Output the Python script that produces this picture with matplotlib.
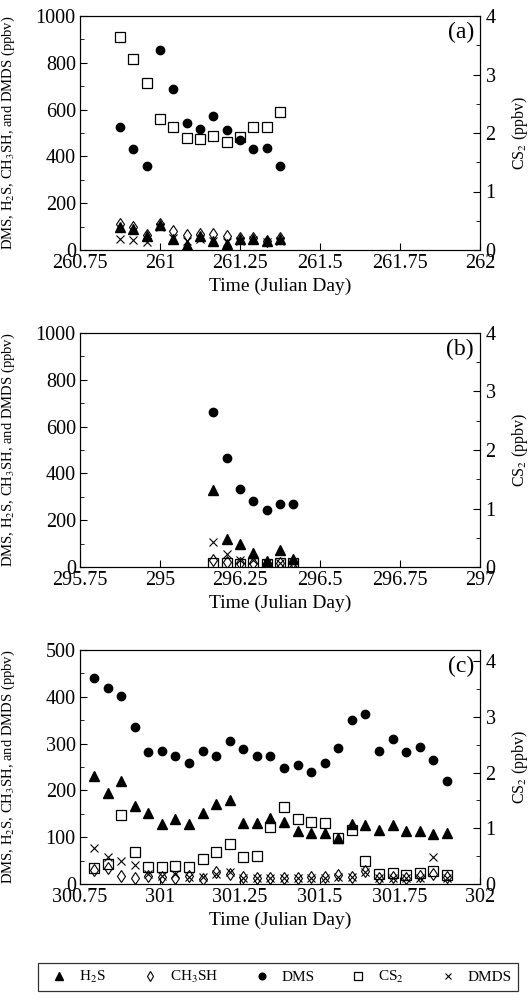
import matplotlib
matplotlib.use('Agg')
import matplotlib.pyplot as plt
from matplotlib.ticker import MultipleLocator, FixedLocator

plt.rcParams['font.family'] = ['Liberation Serif', 'DejaVu Serif']
plt.rcParams['mathtext.fontset'] = 'stix'

# panel (a)
a_time = [260.875, 260.917, 260.958, 261.0, 261.042, 261.083, 261.125,
          261.167, 261.208, 261.25, 261.292, 261.333, 261.375]
a_h2s = [100, 88, 58, 105, 45, 22, 60, 38, 25, 45, 45, 38, 45]
a_ch3sh = [110, 100, 65, 112, 80, 62, 68, 70, 60, 50, 50, 40, 50]
a_dms = [525, 433, 357, 854, 686, 543, 515, 571, 512, 472, 430, 438, 358]
a_cs2 = [3.645, 3.26, 2.855, 2.24, 2.1, 1.91, 1.89, 1.95, 1.84, 1.94, 2.11, 2.1, 2.36]
a_dmds = [45, 42, 35, 100, 50, 40, 45, 40, 35, 40, 42, 35, 40]

# panel (b)
b_time = [296.167, 296.208, 296.25, 296.292, 296.333, 296.375, 296.417]
b_h2s = [330, 121, 98, 60, 24, 71, 36]
b_ch3sh = [28, 20, 18, 18, 15, 18, 20]
b_dms = [661, 464, 335, 283, 245, 271, 268]
b_cs2 = [0.06, 0.06, 0.05, 0.06, 0.05, 0.06, 0.06]
b_dmds = [105, 55, 30, 30, 15, 15, 15]

# panel (c)
c_time = [300.794, 300.836, 300.879, 300.921, 300.964, 301.006, 301.048,
          301.091, 301.133, 301.176, 301.218, 301.260, 301.303, 301.345,
          301.388, 301.430, 301.472, 301.515, 301.557, 301.600, 301.642,
          301.684, 301.727, 301.769, 301.812, 301.854, 301.896]
c_h2s = [230, 195, 220, 167, 152, 129, 139, 129, 152, 171, 179, 131, 131, 140,
         132, 114, 108, 109, 98, 128, 126, 116, 127, 114, 113, 106, 108]
c_ch3sh = [30, 35, 18, 12, 18, 15, 12, 18, 10, 25, 22, 15, 12, 12,
           12, 12, 15, 15, 20, 15, 28, 12, 15, 12, 18, 22, 14]
c_dms = [441, 418, 401, 336, 282, 285, 274, 259, 284, 274, 305, 289, 274, 274,
         248, 255, 239, 259, 291, 351, 363, 284, 309, 282, 293, 266, 220]
c_cs2 = [0.28, 0.36, 1.24, 0.58, 0.30, 0.30, 0.32, 0.30, 0.44, 0.58, 0.71, 0.48, 0.51, 1.02,
         1.38, 1.16, 1.12, 1.09, 0.82, 0.97, 0.42, 0.18, 0.2, 0.17, 0.2, 0.24, 0.16]
c_dmds = [77, 58, 50, 40, 22, 18, 22, 15, 16, 22, 25, 12, 12, 12,
          12, 12, 12, 12, 15, 15, 25, 12, 12, 12, 12, 57, 12]

a_ticks = [260.75, 261, 261.25, 261.5, 261.75, 262]
a_labels = ['260.75', '261', '261.25', '261.5', '261.75', '262']
b_ticks = [295.75, 296, 296.25, 296.5, 296.75, 297]
b_labels = ['295.75', '295', '296.25', '296.5', '296.75', '297']
c_ticks = [300.75, 301, 301.25, 301.5, 301.75, 302]
c_labels = ['300.75', '301', '301.25', '301.5', '301.75', '302']


def draw_panel(fig, rect, t, h2s, ch3sh, dms, cs2, dmds, xticks, xlabels,
               ymax, ymaj, rmax, tag):
    ax = fig.add_axes(rect)
    ax.plot(t, h2s, '^', color='black', ms=7, label='H$_2$S')
    ax.plot(t, ch3sh, 'd', mfc='none', mec='black', mew=0.8, ms=6, label='CH$_3$SH')
    ax.plot(t, dms, 'o', color='black', ms=6, label='DMS')
    ax.plot(t, dmds, 'x', color='black', mew=0.8, ms=6, label='DMDS')
    ax.set_xlim(xticks[0], xticks[-1])
    ax.set_ylim(0, ymax)
    ax.xaxis.set_major_locator(FixedLocator(xticks))
    ax.set_xticklabels(xlabels)
    ax.yaxis.set_major_locator(MultipleLocator(ymaj))
    ax.yaxis.set_minor_locator(MultipleLocator(ymaj / 2))
    ax.tick_params(direction='in', labelsize=14.5, pad=3, length=5)
    ax.tick_params(which='minor', direction='in', length=3)
    ax.set_xlabel('Time (Julian Day)', fontsize=14, labelpad=3)
    ax.set_ylabel('DMS, H$_2$S, CH$_3$SH, and DMDS (ppbv)', fontsize=10.5)
    ax.yaxis.set_label_coords(-0.158, 0.5)
    ax.text(0.985, 0.93, tag, transform=ax.transAxes, ha='right', va='center', fontsize=17)

    ax2 = ax.twinx()
    ax2.plot(t, cs2, 's', mfc='none', mec='black', mew=0.9, ms=7, label='CS$_2$')
    ax2.set_ylim(0, rmax)
    ax2.yaxis.set_major_locator(MultipleLocator(1))
    ax2.yaxis.set_minor_locator(MultipleLocator(0.5))
    ax2.tick_params(direction='in', labelsize=14.5, pad=4, length=5)
    ax2.tick_params(which='minor', direction='in', length=3)
    ax2.set_ylabel('CS$_2$ (ppbv)', fontsize=11.5)
    ax2.yaxis.set_label_coords(1.075, 0.5)
    return ax, ax2


def main():
    fig = plt.figure(figsize=(5.32, 10.08), dpi=100)
    left = 80 / 532
    width = 400 / 532
    height = 234 / 1008

    ax, ax2 = draw_panel(fig, [left, 1 - 250 / 1008, width, height], a_time, a_h2s,
                         a_ch3sh, a_dms, a_cs2, a_dmds, a_ticks, a_labels, 1000, 200, 4, '(a)')
    draw_panel(fig, [left, 1 - 567 / 1008, width, height], b_time, b_h2s,
               b_ch3sh, b_dms, b_cs2, b_dmds, b_ticks, b_labels, 1000, 200, 4, '(b)')
    draw_panel(fig, [left, 1 - 884 / 1008, width, height], c_time, c_h2s,
               c_ch3sh, c_dms, c_cs2, c_dmds, c_ticks, c_labels, 500, 100, 4.2, '(c)')

    h1, l1 = ax.get_legend_handles_labels()
    h2, l2 = ax2.get_legend_handles_labels()
    handles = [h1[0], h1[1], h1[2], h2[0], h1[3]]
    labels = [l1[0], l1[1], l1[2], l2[0], l1[3]]
    leg = fig.legend(handles, labels, loc='center', ncol=5, mode='expand',
                     bbox_to_anchor=(38 / 532, 1 - 992 / 1008, 480 / 532, 30 / 1008),
                     fontsize=11, fancybox=False, frameon=True, borderaxespad=0,
                     handletextpad=0.3, markerscale=0.8)
    leg.get_frame().set_edgecolor('black')
    leg.get_frame().set_linewidth(0.9)

    fig.savefig('out.png', dpi=100)


if __name__ == "__main__":
    main()
